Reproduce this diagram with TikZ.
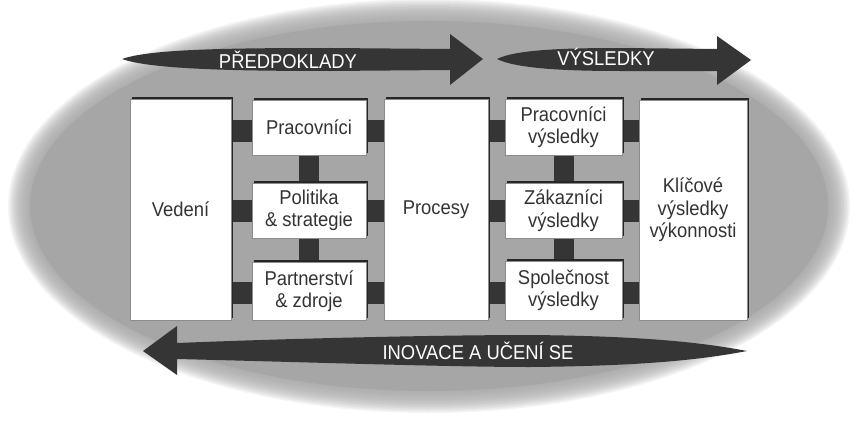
\documentclass[tikz,border=0pt]{standalone}
\usepackage{fontspec}
\setmainfont{Liberation Sans}[FakeStretch=0.92]
\usetikzlibrary{shadows,backgrounds}
\definecolor{ellgray}{HTML}{A6A6A6}
\definecolor{darkfill}{HTML}{353535}
\definecolor{boxtext}{HTML}{333333}
\tikzset{
  boxnode/.style={draw=black!45, line width=0.6pt, fill=white, inner sep=0pt,
    text=boxtext, align=center, font=\fontsize{20}{22.5}\selectfont,
    drop shadow={shadow xshift=1.6pt, shadow yshift=1.6pt, opacity=1, fill=black!85}},
  hbar/.style={draw=darkfill, line width=22pt},
  vbar/.style={draw=darkfill, line width=20pt},
  arrowshape/.style={fill=darkfill},
  arrowtext/.style={text=white, font=\fontsize{20}{24}\selectfont, inner sep=0pt, anchor=base}
}
\begin{document}
\begin{tikzpicture}[x=1pt,y=-1pt]
\useasboundingbox (0,0) rectangle (853,420);
\begin{pgfonlayer}{background}
\fill[white] (0,0) rectangle (853,420);
\foreach \i in {0,...,14} {
  \fill[ellgray, fill opacity=0.12] (429,206) ellipse [x radius={421-1.5*\i}, y radius={207-1.5*\i}];
}
\fill[ellgray] (429,206) ellipse [x radius=399, y radius=185];
\end{pgfonlayer}

% arrows
\fill[arrowshape] (122,59) .. controls (150,49) and (230,48) .. (330,48) -- (450,49) -- (450,34)
  -- (483,59) -- (450,85) -- (450,70) -- (330,71) .. controls (230,71) and (150,69) .. (122,59) -- cycle;
\node[arrowtext] (pred) at (288,68) {PŘEDPOKLADY};

\fill[arrowshape] (497,59) .. controls (515,50) and (560,48) .. (620,48) -- (717,49) -- (717,36)
  -- (751,60) -- (717,85) -- (717,71) -- (620,71) .. controls (560,71) and (515,68) .. (497,59) -- cycle;
\node[arrowtext] (vys) at (606,66) {VÝSLEDKY};

\fill[arrowshape] (143,351) -- (177,326) -- (177,343) .. controls (300,338) and (450,335) .. (530,335)
  .. controls (640,336) and (700,342) .. (747,351) .. controls (700,360) and (640,366) .. (530,367)
  .. controls (450,367) and (300,362) .. (177,359) -- (177,375) -- cycle;
\node[arrowtext] (ino) at (478,359) {INOVACE A UČENÍ SE};

% boxes
\node[boxnode, minimum width=101pt, minimum height=221pt] (ved) at (180.5,209.5) {Vedení};
\node[boxnode, minimum width=114pt, minimum height=55pt] (prac) at (309,127.5) {Pracovníci};
\node[boxnode, minimum width=114pt, minimum height=55pt] (pol) at (309,210.5) {Politika\\\& strategie};
\node[boxnode, minimum width=114pt, minimum height=58pt] (par) at (309,291) {Partnerství\\\& zdroje};
\node[boxnode, minimum width=104pt, minimum height=221pt] (proc) at (436,209.5) {Procesy};
\node[boxnode, minimum width=117pt, minimum height=56pt] (prv) at (563.5,127) {Pracovníci\\výsledky};
\node[boxnode, minimum width=117pt, minimum height=55pt] (zak) at (563.5,210.5) {Zákazníci\\výsledky};
\node[boxnode, minimum width=117pt, minimum height=59pt] (spo) at (563.5,290.5) {Společnost\\výsledky};
\node[boxnode, minimum width=108pt, minimum height=220pt] (kli) at (693,210) {Klíčové\\výsledky\\výkonnosti};

% row anchor points for the connector bars
\coordinate (pracW) at ([yshift=-3.5pt]prac.west);
\coordinate (pracE) at ([yshift=-3.5pt]prac.east);
\coordinate (prvW) at ([yshift=-4pt]prv.west);
\coordinate (prvE) at ([yshift=-4pt]prv.east);
\coordinate (parW) at ([yshift=-2pt]par.west);
\coordinate (parE) at ([yshift=-2pt]par.east);
\coordinate (spoW) at ([yshift=-2pt]spo.west);
\coordinate (spoE) at ([yshift=-2pt]spo.east);

% connectors
\begin{pgfonlayer}{background}
\draw[hbar] (ved.east |- pracW) -- (pracW);
\draw[hbar] (pracE) -- (proc.west |- pracE);
\draw[hbar] (proc.east |- prvW) -- (prvW);
\draw[hbar] (prvE) -- (kli.west |- prvE);
\draw[hbar] (ved.east |- pol.west) -- (pol.west);
\draw[hbar] (pol.east) -- (proc.west |- pol.east);
\draw[hbar] (proc.east |- zak.west) -- (zak.west);
\draw[hbar] (zak.east) -- (kli.west |- zak.east);
\draw[hbar] (ved.east |- parW) -- (parW);
\draw[hbar] (parE) -- (proc.west |- parE);
\draw[hbar] (proc.east |- spoW) -- (spoW);
\draw[hbar] (spoE) -- (kli.west |- spoE);
\draw[vbar] (prac.south) -- (pol.north);
\draw[vbar] (pol.south) -- (par.north);
\draw[vbar] (prv.south) -- (zak.north);
\draw[vbar] (zak.south) -- (spo.north);
\end{pgfonlayer}
\end{tikzpicture}
\end{document}
